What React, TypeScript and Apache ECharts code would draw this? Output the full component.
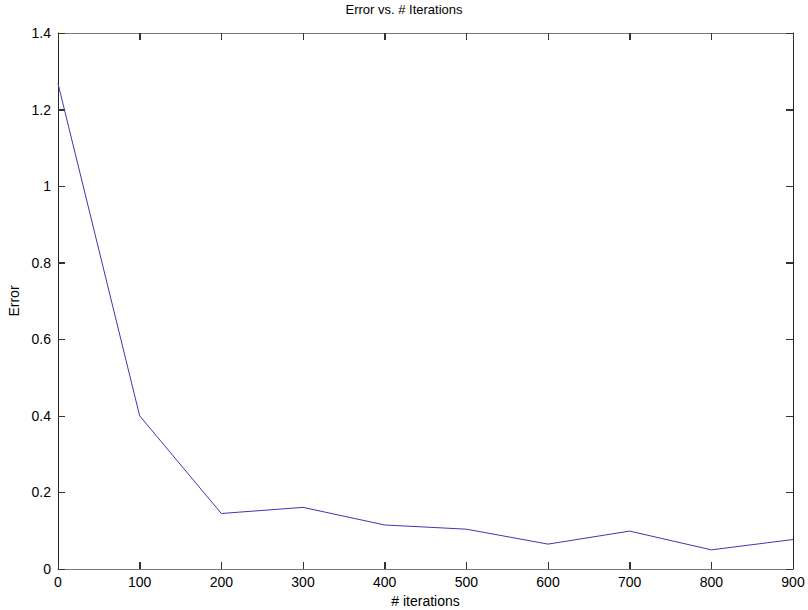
import React, { useEffect, useRef } from "react";
import * as echarts from "echarts";

const iterations = [0, 100, 200, 300, 400, 500, 600, 700, 800, 900];
const errors = [1.268, 0.4, 0.145, 0.161, 0.115, 0.104, 0.065, 0.099, 0.05, 0.077];
const xTicks = [100, 200, 300, 400, 500, 600, 700, 800];
const yTicks = [0.2, 0.4, 0.6, 0.8, 1.0, 1.2];
const X_MIN = 0;
const X_MAX = 900;
const Y_MIN = 0;
const Y_MAX = 1.4;

const FONT = "Liberation Sans, Arial, sans-serif";
const TICK_LEN = 7;

export default function App() {
  const ref = useRef<HTMLDivElement>(null);
  useEffect(() => {
    if (!ref.current) return;
    const chart = echarts.init(ref.current, null, { renderer: "svg" });
    const xLine = { show: true, onZero: false, lineStyle: { color: "#777", width: 1 } };
    const yLine = { show: true, onZero: false, lineStyle: { color: "#222", width: 1 } };
    const tick = { show: true, inside: true, length: TICK_LEN, lineStyle: { color: "#333", width: 1 } };
    chart.setOption({
      animation: false,
      backgroundColor: "#fff",
      textStyle: { fontFamily: FONT },
      title: {
        text: "Error vs. # Iterations",
        left: "center",
        top: 3,
        padding: 0,
        textStyle: { fontSize: 13, fontWeight: "normal", color: "#000", fontFamily: FONT },
      },
      grid: { left: 58, right: 15, top: 33, bottom: 41, outerBoundsMode: "none", containLabel: false },
      xAxis: [
        {
          type: "value",
          min: X_MIN,
          max: X_MAX,
          interval: 100,
          position: "bottom",
          name: "# iterations",
          nameLocation: "middle",
          nameGap: 25,
          nameTextStyle: { fontSize: 14, color: "#000", fontFamily: FONT },
          axisLine: xLine,
          axisTick: tick,
          axisLabel: { fontSize: 14, color: "#000", margin: 6, fontFamily: FONT },
          splitLine: { show: false },
        },
        {
          type: "value",
          min: X_MIN,
          max: X_MAX,
          interval: 100,
          position: "top",
          axisLine: xLine,
          axisTick: tick,
          axisLabel: { show: false },
          splitLine: { show: false },
        },
      ],
      yAxis: [
        {
          type: "value",
          min: Y_MIN,
          max: Y_MAX,
          interval: 0.2,
          position: "left",
          name: "Error",
          nameLocation: "middle",
          nameGap: 35,
          nameTextStyle: { fontSize: 14, color: "#000", fontFamily: FONT },
          axisLine: yLine,
          axisTick: tick,
          axisLabel: { fontSize: 14, color: "#000", margin: 7, fontFamily: FONT },
          splitLine: { show: false },
        },
        {
          type: "value",
          min: Y_MIN,
          max: Y_MAX,
          interval: 0.2,
          position: "right",
          axisLine: yLine,
          axisTick: tick,
          axisLabel: { show: false },
          splitLine: { show: false },
        },
      ],
      series: [
        {
          type: "line",
          data: iterations.map((x, i) => [x, errors[i]]),
          showSymbol: false,
          lineStyle: { color: "#3a3ab0", width: 1 },
          xAxisIndex: 0,
          yAxisIndex: 0,
        },
      ],
    });

    // Inward tick marks on all four sides, positioned through the chart's own scales
    const finder = { gridIndex: 0 };
    const style = { stroke: "#333", lineWidth: 1 };
    const elements: any[] = [];
    xTicks.forEach((v) => {
      const pb = chart.convertToPixel(finder, [v, Y_MIN]) as number[];
      const pt = chart.convertToPixel(finder, [v, Y_MAX]) as number[];
      const x = Math.round(pb[0]) + 0.5;
      elements.push({ type: "line", z: 100, shape: { x1: x, y1: pb[1], x2: x, y2: pb[1] - TICK_LEN }, style });
      elements.push({ type: "line", z: 100, shape: { x1: x, y1: pt[1], x2: x, y2: pt[1] + TICK_LEN }, style });
    });
    yTicks.forEach((v) => {
      const pl = chart.convertToPixel(finder, [X_MIN, v]) as number[];
      const pr = chart.convertToPixel(finder, [X_MAX, v]) as number[];
      const y = Math.round(pl[1]) + 0.5;
      elements.push({ type: "line", z: 100, shape: { x1: pl[0], y1: y, x2: pl[0] + TICK_LEN, y2: y }, style });
      elements.push({ type: "line", z: 100, shape: { x1: pr[0], y1: y, x2: pr[0] - TICK_LEN, y2: y }, style });
    });
    chart.setOption({ graphic: { elements } });

    return () => chart.dispose();
  }, []);
  return <div ref={ref} style={{ width: 808, height: 610, position: "absolute", left: 0, top: 0 }} />;
}
